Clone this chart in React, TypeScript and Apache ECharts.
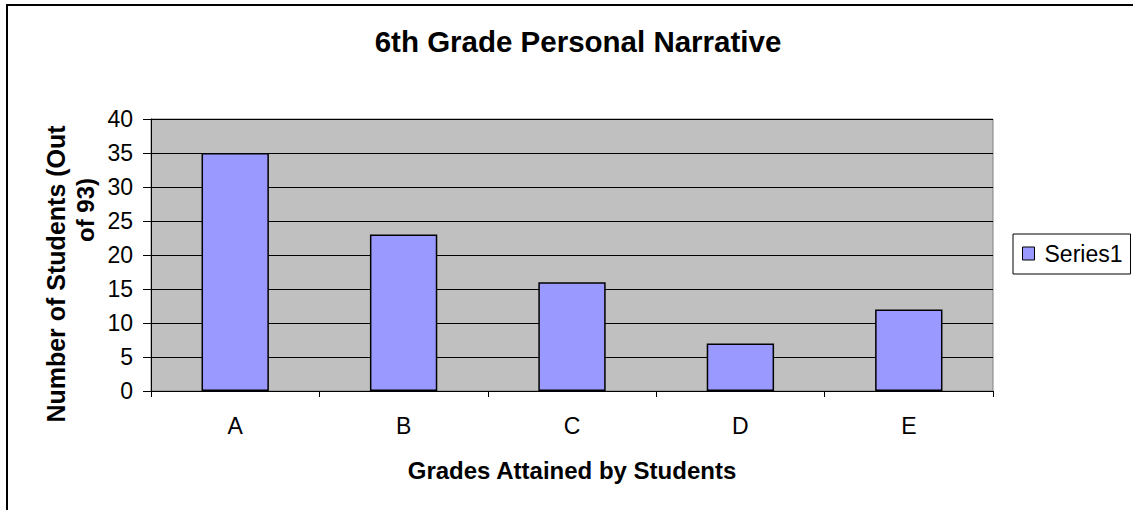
import React, { useEffect, useRef } from "react";
import * as echarts from "echarts";

const categories = ["A", "B", "C", "D", "E"];
const values = [35, 23, 16, 7, 12];
const seriesName = "Series1";
const chartTitle = "6th Grade Personal Narrative";
const xTitle = "Grades Attained by Students";
const yTitleLines = ["Number of Students (Out", "of 93)"];

export default function App() {
  const ref = useRef<HTMLDivElement>(null);
  useEffect(() => {
    if (!ref.current) return;
    const chart = echarts.init(ref.current, null, { renderer: "svg" });
    const font = "Liberation Sans, Arial, sans-serif";
    chart.setOption({
      animation: false,
      backgroundColor: "#ffffff",
      title: {
        text: chartTitle,
        left: 573,
        top: 36,
        textAlign: "center",
        textVerticalAlign: "middle",
        textStyle: { fontFamily: font, fontSize: 29.5, fontWeight: "bold", color: "#000" },
      },
      legend: {
        left: 1013,
        top: 234,
        orient: "vertical",
        data: [seriesName],
        backgroundColor: "#fff",
        borderColor: "#000",
        borderWidth: 1,
        padding: [8, 8, 9, 9],
        itemWidth: 12,
        itemHeight: 13,
        itemGap: 8,
        icon: "rect",
        itemStyle: { color: "#9999FF", borderColor: "#000", borderWidth: 1 },
        textStyle: { fontFamily: font, fontSize: 23, color: "#000", padding: [0, 0, 0, 5] },
      },
      grid: {
        left: 151,
        right: 140,
        top: 119,
        bottom: 119,
        show: true,
        backgroundColor: "#C0C0C0",
        borderColor: "#808080",
        borderWidth: 1,
        containLabel: false,
      },
      xAxis: {
        type: "category",
        data: categories,
        name: xTitle,
        nameLocation: "middle",
        nameGap: 67,
        nameTextStyle: { fontFamily: font, fontSize: 24, fontWeight: "bold", color: "#000" },
        axisLine: { lineStyle: { color: "#000", width: 1 } },
        axisTick: { show: true, alignWithLabel: false, length: 6, lineStyle: { color: "#000" } },
        axisLabel: { fontFamily: font, fontSize: 23, color: "#000", margin: 23 },
        splitLine: { show: false },
      },
      yAxis: {
        type: "value",
        min: 0,
        max: 40,
        interval: 5,
        axisLine: { show: true, lineStyle: { color: "#000", width: 1 } },
        axisTick: { show: true, length: 8, lineStyle: { color: "#000" } },
        axisLabel: { fontFamily: font, fontSize: 23, color: "#000", margin: 18 },
        splitLine: { show: true, lineStyle: { color: "#000", width: 1 } },
      },
      series: [
        {
          name: seriesName,
          type: "bar",
          data: values,
          barWidth: "40%",
          itemStyle: { color: "#9999FF", borderColor: "#000", borderWidth: 1.5 },
        },
      ],
      graphic: [
        {
          type: "rect",
          shape: { x: 7, y: 5, width: 1150, height: 530 },
          style: { fill: "none", stroke: "#000", lineWidth: 2 },
          silent: true,
        },
        {
          type: "text",
          x: 56,
          y: 274,
          rotation: Math.PI / 2,
          style: {
            text: yTitleLines[0],
            fontFamily: font,
            fontSize: 25,
            fontWeight: "bold",
            fill: "#000",
            align: "center",
            verticalAlign: "middle",
          },
        },
        {
          type: "text",
          x: 85,
          y: 210,
          rotation: Math.PI / 2,
          style: {
            text: yTitleLines[1],
            fontFamily: font,
            fontSize: 24,
            fontWeight: "bold",
            fill: "#000",
            align: "center",
            verticalAlign: "middle",
          },
        },
      ],
    });
    return () => chart.dispose();
  }, []);
  return (
    <div
      ref={ref}
      style={{ position: "fixed", left: 0, top: 0, width: 1133, height: 510 }}
    />
  );
}
